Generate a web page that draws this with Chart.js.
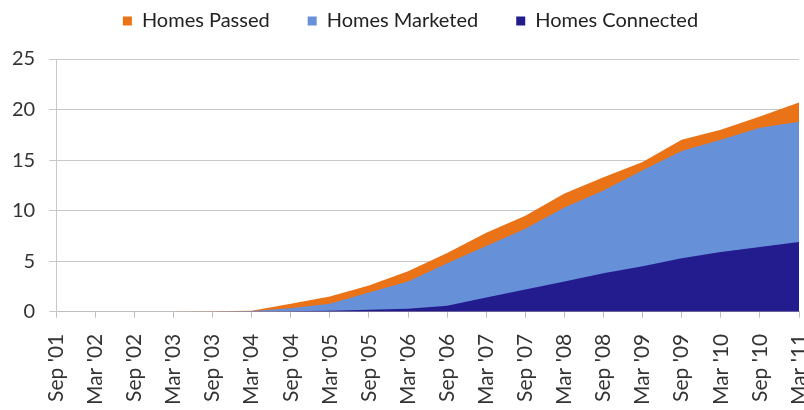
<!DOCTYPE html>
<html>
<head>
<meta charset="utf-8">
<script src="https://cdn.jsdelivr.net/npm/chart.js@4/dist/chart.umd.min.js"></script>
<style>
  html, body { margin: 0; padding: 0; background: #fff; }
  #wrap { width: 804px; height: 410px; }
</style>
</head>
<body>
<div id="wrap"><canvas id="chart" width="804" height="410"></canvas></div>
<script>
// half-year periods
var periods = ["Sep '01", "Mar '02", "Sep '02", "Mar '03", "Sep '03", "Mar '04", "Sep '04", "Mar '05",
               "Sep '05", "Mar '06", "Sep '06", "Mar '07", "Sep '07", "Mar '08", "Sep '08", "Mar '09",
               "Sep '09", "Mar '10", "Sep '10", "Mar '11"];

// values
var homesPassed    = [0, 0, 0, 0, 0.05, 0.1, 0.8, 1.5, 2.6, 4.0, 5.8, 7.8, 9.5, 11.7, 13.3, 14.8, 17.0, 18.0, 19.3, 20.7];
var homesMarketed  = [0, 0, 0, 0, 0.03, 0.08, 0.35, 0.8, 1.9, 3.0, 4.8, 6.5, 8.2, 10.3, 12.0, 14.0, 15.9, 17.0, 18.2, 18.8];
var homesConnected = [0, 0, 0, 0, 0, 0.02, 0.05, 0.1, 0.2, 0.3, 0.6, 1.4, 2.2, 3.0, 3.8, 4.5, 5.3, 5.9, 6.4, 6.9];

var yTicks = [0, 5, 10, 15, 20, 25];

var font = "Lato, 'Liberation Sans', sans-serif";

function area(label, values, color) {
    return {
        label: label,
        data: values,
        backgroundColor: color,
        borderColor: color,
        borderWidth: 0,
        pointRadius: 0,
        tension: 0,
        fill: 'origin'
    };
}

// fixed legend height and a small shift right, as in the picture
var legendTweak = {
    id: 'legendTweak',
    afterInit: function (chart) {
        var lg = chart.legend;
        var fit = lg.fit;
        var draw = lg.draw;
        lg.fit = function () {
            fit.call(this);
            this.height = 86;
        };
        lg.draw = function () {
            var ctx = this.ctx;
            ctx.save();
            ctx.translate(12, 0);
            draw.apply(this, arguments);
            ctx.restore();
        };
    }
};

new Chart(document.getElementById('chart').getContext('2d'), {
    type: 'line',
    data: {
        labels: periods,
        // first dataset is drawn on top, legend is reversed below
        datasets: [
            area('Homes Connected', homesConnected, '#231c8e'),
            area('Homes Marketed', homesMarketed, '#6690d8'),
            area('Homes Passed', homesPassed, '#ea7317')
        ]
    },
    plugins: [legendTweak],
    options: {
        responsive: false,
        animation: false,
        layout: { padding: { left: -2, right: 5, top: -27, bottom: -11 } },
        plugins: {
            tooltip: { enabled: false },
            legend: {
                position: 'top',
                reverse: true,
                labels: {
                    boxWidth: 9,
                    boxHeight: 9,
                    padding: 38,
                    color: '#222',
                    font: { family: font, size: 20 }
                }
            }
        },
        scales: {
            x: {
                offset: false,
                afterFit: function (axis) {
                    axis.paddingLeft = 0;
                    axis.paddingRight = 0;
                },
                grid: {
                    display: true,
                    drawOnChartArea: false,
                    color: '#bdbdbd',
                    tickLength: 6
                },
                border: { color: '#bdbdbd' },
                ticks: {
                    autoSkip: false,
                    minRotation: 90,
                    maxRotation: 90,
                    padding: 16,
                    color: '#333',
                    font: { family: font, size: 21 }
                }
            },
            y: {
                min: 0,
                max: 25,
                afterBuildTicks: function (axis) {
                    axis.ticks = yTicks.map(function (v) { return { value: v }; });
                },
                grid: {
                    color: '#c8c8c8',
                    tickLength: 7
                },
                border: { color: '#c8c8c8' },
                ticks: {
                    padding: 14,
                    color: '#333',
                    font: { family: font, size: 20 }
                }
            }
        }
    }
});
</script>
</body>
</html>
